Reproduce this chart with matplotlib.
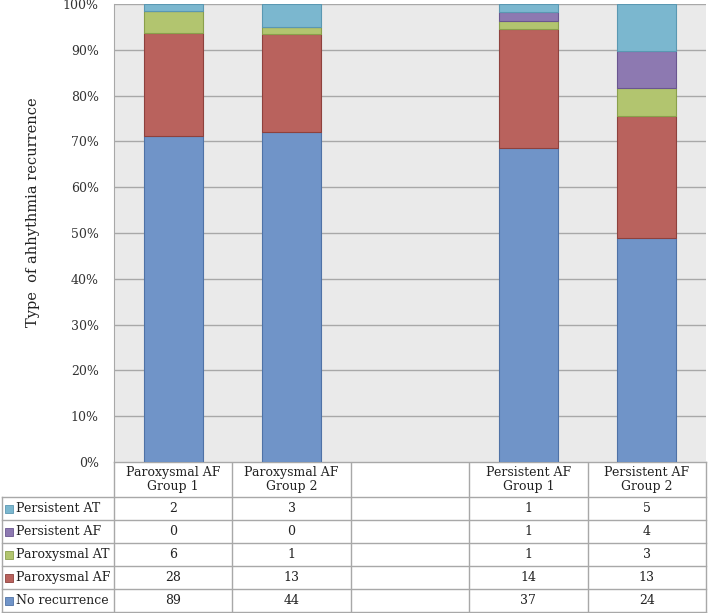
import matplotlib.pyplot as plt
import numpy as np

plt.rcParams['font.family'] = ['DejaVu Serif']

# categories (one empty slot between the two groups)
groups = ['Paroxysmal AF\nGroup 1', 'Paroxysmal AF\nGroup 2', '', 'Persistent AF\nGroup 1', 'Persistent AF\nGroup 2']
series = ['No recurrence', 'Paroxysmal AF', 'Paroxysmal AT', 'Persistent AF', 'Persistent AT']
no_recurrence = [89, 44, None, 37, 24]
paroxysmal_af = [28, 13, None, 14, 13]
paroxysmal_at = [6, 1, None, 1, 3]
persistent_af = [0, 0, None, 1, 4]
persistent_at = [2, 3, None, 1, 5]

colors = ['#7094C8', '#B9625D', '#B2C56F', '#8D79B1', '#7BB7CF']
edges = ['#4F72A6', '#8E413D', '#8AA04B', '#6A5690', '#5A98B2']

counts = [no_recurrence, paroxysmal_af, paroxysmal_at, persistent_af, persistent_at]

W, H = 709, 613
fig = plt.figure(figsize=(W / 100, H / 100), dpi=100)

left_px, right_px, top_px, bot_px = 114, 706, 4, 462
ax = fig.add_axes([left_px / W, 1 - bot_px / H, (right_px - left_px) / W, (bot_px - top_px) / H])
ax.set_facecolor('#EAEAEA')

# bar positions / percentages
idx = [i for i, g in enumerate(groups) if g]
totals = {i: sum(c[i] for c in counts) for i in idx}
bottom = {i: 0.0 for i in idx}
for s, c, col, ec in zip(series, counts, colors, edges):
    vals = [100.0 * c[i] / totals[i] for i in idx]
    ax.bar(idx, vals, width=0.5, bottom=[bottom[i] for i in idx], color=col,
           edgecolor=ec, linewidth=0.8, zorder=3)
    for i, v in zip(idx, vals):
        bottom[i] += v

ax.set_xlim(-0.5, len(groups) - 0.5)
ax.set_ylim(0, 100)
ax.set_yticks(np.arange(0, 101, 10))
ax.set_yticklabels([f'{t}%' for t in range(0, 101, 10)], fontsize=9, color='#333333')
ax.set_xticks([])
ax.grid(axis='y', color='#A8A8A8', linewidth=1.0, zorder=0)
ax.tick_params(axis='y', length=0, pad=11)
for sp in ['top', 'right', 'bottom']:
    ax.spines[sp].set_visible(False)
ax.spines['left'].set_color('#A8A8A8')
fig.text(33 / W, 1 - 212 / H, 'Type  of ahhythmia recurrence', rotation=90,
         ha='center', va='center', fontsize=10.5, color='#222222')

# table below
tax = fig.add_axes([0, 0, 1, 1], zorder=-1)
tax.set_xlim(0, W)
tax.set_ylim(H, 0)
tax.axis('off')

lc = '#A8A8A8'
ncol = len(groups)
colw = (right_px - left_px) / ncol
col_edges = [left_px + k * colw for k in range(ncol + 1)]
header_bot = 497
row_h = 23.0
row_edges = [header_bot + k * row_h for k in range(len(series) + 1)]

tax.plot([left_px, right_px], [bot_px, bot_px], color=lc, lw=1)
for y in row_edges:
    tax.plot([2, right_px], [y, y], color=lc, lw=1)
tax.plot([2, 2], [header_bot, row_edges[-1]], color=lc, lw=1)
for x in col_edges:
    tax.plot([x, x], [bot_px, row_edges[-1]], color=lc, lw=1)

for k, g in enumerate(groups):
    cx = (col_edges[k] + col_edges[k + 1]) / 2
    tax.text(cx, (bot_px + header_bot) / 2, g, ha='center', va='center', fontsize=9,
             linespacing=1.15, color='#222222')

table_order = list(range(len(series)))[::-1]
for r, si in enumerate(table_order):
    cy = (row_edges[r] + row_edges[r + 1]) / 2
    tax.add_patch(plt.Rectangle((5, cy - 4), 8, 8, facecolor=colors[si], edgecolor=edges[si], lw=0.6))
    tax.text(16, cy, series[si], ha='left', va='center', fontsize=9, color='#222222')
    for k in range(ncol):
        v = counts[si][k]
        if v is None:
            continue
        cx = (col_edges[k] + col_edges[k + 1]) / 2
        tax.text(cx, cy, str(v), ha='center', va='center', fontsize=9, color='#222222')

fig.savefig('out.png', dpi=100)
